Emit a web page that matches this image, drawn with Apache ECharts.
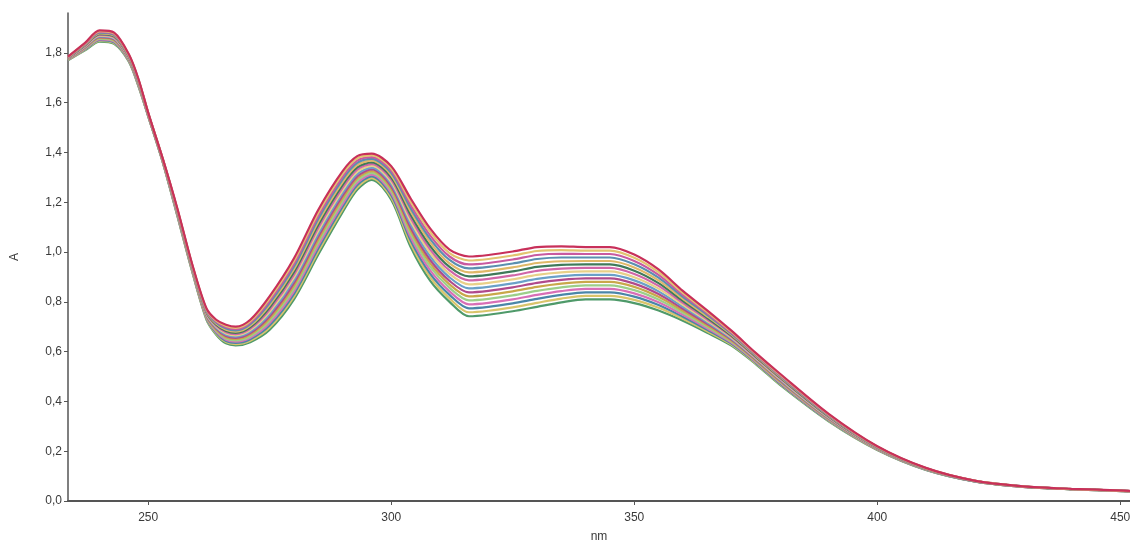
<!DOCTYPE html>
<html>
<head>
<meta charset="utf-8">
<script src="https://cdn.jsdelivr.net/npm/echarts@6/dist/echarts.min.js"></script>
<style>
  html, body { margin: 0; padding: 0; background: #fff; }
  #chart { width: 1130px; height: 542px; }
</style>
</head>
<body>
<div id="chart"></div>
<script>
// wavelength grid (nm)
const wavelengths = [233.5, 237, 240, 243, 246, 248, 250, 253, 256, 259, 262, 264, 266, 268, 271, 275, 280, 285, 290, 293, 296, 300, 304, 308, 312, 316, 320, 325, 330, 335, 340, 345, 350, 355, 360, 365, 370, 375, 380, 390, 400, 410, 420, 430, 440, 452];

// absorbance of each spectrum, lowest shoulder first
const s01 = [1.770,1.810,1.845,1.836,1.765,1.665,1.545,1.360,1.145,0.925, 0.728,0.668,0.633,0.625,0.638,0.688, 0.810,0.990,1.160,1.250,1.290,1.210,1.020,0.885,0.800, 0.742,0.748,0.762,0.780,0.798,0.810, 0.810,0.795,0.765, 0.724,0.676,0.624,0.550,0.466, 0.320,0.205,0.125,0.079,0.057,0.047,0.039];
const s02 = [1.771,1.812,1.848,1.839,1.767,1.667,1.546,1.361,1.147,0.927, 0.731,0.672,0.638,0.630,0.644,0.697, 0.821,1.002,1.171,1.259,1.297,1.219,1.033,0.899,0.814, 0.758,0.764,0.778,0.796,0.813,0.824, 0.824,0.808,0.776, 0.732,0.682,0.628,0.553,0.469, 0.322,0.206,0.126,0.079,0.057,0.047,0.039];
const s03 = [1.772,1.814,1.851,1.842,1.769,1.669,1.547,1.362,1.149,0.929, 0.734,0.676,0.643,0.635,0.650,0.706, 0.832,1.014,1.182,1.268,1.304,1.228,1.046,0.913,0.828, 0.774,0.780,0.794,0.812,0.828,0.838, 0.838,0.821,0.787, 0.740,0.688,0.632,0.556,0.472, 0.324,0.207,0.126,0.079,0.057,0.047,0.039];
const s04 = [1.773,1.816,1.854,1.845,1.771,1.671,1.548,1.363,1.151,0.931, 0.737,0.680,0.648,0.640,0.656,0.715, 0.843,1.026,1.193,1.277,1.311,1.237,1.059,0.927,0.842, 0.790,0.796,0.810,0.828,0.843,0.852, 0.852,0.834,0.798, 0.748,0.694,0.636,0.559,0.475, 0.326,0.208,0.127,0.080,0.057,0.047,0.039];
const s05 = [1.774,1.818,1.857,1.848,1.773,1.673,1.549,1.364,1.153,0.933, 0.740,0.684,0.653,0.645,0.662,0.724, 0.854,1.038,1.204,1.286,1.318,1.246,1.072,0.941,0.856, 0.806,0.812,0.826,0.844,0.858,0.866, 0.866,0.847,0.809, 0.756,0.700,0.640,0.562,0.478, 0.328,0.209,0.127,0.080,0.058,0.047,0.039];
const s06 = [1.775,1.820,1.860,1.851,1.775,1.675,1.550,1.365,1.155,0.935, 0.743,0.688,0.658,0.650,0.668,0.733, 0.865,1.050,1.215,1.295,1.325,1.255,1.085,0.955,0.870, 0.822,0.828,0.842,0.860,0.873,0.880, 0.880,0.860,0.820, 0.764,0.706,0.644,0.565,0.481, 0.330,0.210,0.128,0.080,0.058,0.048,0.040];
const s07 = [1.776,1.822,1.863,1.854,1.777,1.677,1.551,1.366,1.157,0.937, 0.746,0.692,0.663,0.655,0.674,0.742, 0.876,1.062,1.226,1.304,1.332,1.264,1.098,0.969,0.884, 0.838,0.844,0.858,0.876,0.888,0.894, 0.894,0.873,0.831, 0.772,0.712,0.648,0.568,0.484, 0.332,0.211,0.128,0.080,0.058,0.048,0.040];
const s08 = [1.777,1.824,1.866,1.857,1.779,1.679,1.552,1.367,1.159,0.939, 0.749,0.696,0.668,0.660,0.680,0.751, 0.887,1.074,1.237,1.313,1.339,1.273,1.111,0.983,0.898, 0.854,0.860,0.874,0.892,0.903,0.908, 0.908,0.886,0.842, 0.780,0.718,0.652,0.571,0.487, 0.334,0.212,0.129,0.080,0.058,0.048,0.040];
const s09 = [1.778,1.826,1.869,1.860,1.781,1.681,1.553,1.368,1.161,0.941, 0.752,0.700,0.673,0.665,0.686,0.760, 0.898,1.086,1.248,1.322,1.346,1.282,1.124,0.997,0.912, 0.870,0.876,0.890,0.908,0.918,0.922, 0.922,0.899,0.853, 0.788,0.724,0.656,0.574,0.490, 0.336,0.213,0.129,0.081,0.058,0.048,0.040];
const s10 = [1.779,1.828,1.872,1.863,1.783,1.683,1.554,1.369,1.163,0.943, 0.755,0.704,0.678,0.670,0.692,0.769, 0.909,1.098,1.259,1.331,1.353,1.291,1.137,1.011,0.926, 0.886,0.892,0.906,0.924,0.933,0.936, 0.936,0.912,0.864, 0.796,0.730,0.660,0.577,0.493, 0.338,0.214,0.130,0.081,0.058,0.048,0.040];
const s11 = [1.780,1.830,1.875,1.866,1.785,1.685,1.555,1.370,1.165,0.945, 0.758,0.708,0.683,0.675,0.698,0.778, 0.920,1.110,1.270,1.340,1.360,1.300,1.150,1.025,0.940, 0.902,0.908,0.922,0.940,0.948,0.950, 0.950,0.925,0.875, 0.804,0.736,0.664,0.580,0.496, 0.340,0.215,0.130,0.081,0.058,0.048,0.040];
const s12 = [1.781,1.832,1.878,1.869,1.787,1.687,1.556,1.371,1.167,0.947, 0.761,0.712,0.688,0.680,0.704,0.787, 0.931,1.122,1.281,1.349,1.367,1.309,1.163,1.039,0.954, 0.918,0.924,0.938,0.956,0.963,0.964, 0.964,0.938,0.886, 0.812,0.742,0.668,0.583,0.499, 0.342,0.216,0.131,0.081,0.058,0.048,0.040];
const s13 = [1.782,1.834,1.881,1.872,1.789,1.689,1.557,1.372,1.169,0.949, 0.764,0.716,0.693,0.685,0.710,0.796, 0.942,1.134,1.292,1.358,1.374,1.318,1.176,1.053,0.968, 0.934,0.940,0.954,0.972,0.978,0.978, 0.978,0.951,0.897, 0.820,0.748,0.672,0.586,0.502, 0.344,0.217,0.131,0.081,0.059,0.048,0.040];
const s14 = [1.783,1.836,1.884,1.875,1.791,1.691,1.558,1.373,1.171,0.951, 0.767,0.720,0.698,0.690,0.716,0.805, 0.953,1.146,1.303,1.367,1.381,1.327,1.189,1.067,0.982, 0.950,0.956,0.970,0.988,0.993,0.992, 0.992,0.964,0.908, 0.828,0.754,0.676,0.589,0.505, 0.346,0.218,0.132,0.082,0.059,0.048,0.040];
const s15 = [1.784,1.838,1.887,1.878,1.793,1.693,1.559,1.374,1.173,0.953, 0.770,0.724,0.703,0.695,0.722,0.814, 0.964,1.158,1.314,1.376,1.388,1.336,1.202,1.081,0.996, 0.966,0.972,0.986,1.004,1.008,1.006, 1.006,0.977,0.919, 0.836,0.760,0.680,0.592,0.508, 0.348,0.219,0.132,0.082,0.059,0.048,0.040];
const s16 = [1.785,1.840,1.890,1.881,1.795,1.695,1.560,1.375,1.175,0.955, 0.773,0.728,0.708,0.700,0.728,0.823, 0.975,1.170,1.325,1.385,1.395,1.345,1.215,1.095,1.010, 0.982,0.988,1.002,1.020,1.023,1.020, 1.020,0.990,0.930, 0.844,0.766,0.684,0.595,0.511, 0.350,0.220,0.133,0.082,0.059,0.049,0.041];

const spectra = [s01, s02, s03, s04, s05, s06, s07, s08, s09, s10, s11, s12, s13, s14, s15, s16];

// tick labels
const xTicks = [250, 300, 350, 400, 450];
const yTicks = [0, 0.2, 0.4, 0.6, 0.8, 1.0, 1.2, 1.4, 1.6, 1.8];

const lineColors = [
  "#4f9a6a", "#d9c46a", "#4a86a8", "#d86fb6", "#9ccf8a", "#c9a84a", "#b04a8c", "#6aa0c8",
  "#e8d088", "#d066a8", "#3f7a5a", "#e0b868", "#5b8fb0", "#c85aa0", "#e2c470", "#c8305a",
];

const labelFont = {
  fontFamily: "Liberation Sans",
  fontSize: 12,
  color: "#3a3a3a",
};

const series = spectra.map((vals, i) => ({
  type: "line",
  data: wavelengths.map((w, j) => [w, vals[j]]),
  showSymbol: false,
  smooth: 0.3,
  lineStyle: { width: 2.2, color: lineColors[i] },
  silent: true,
}));

const myChart = echarts.init(document.getElementById("chart"));
myChart.setOption({
  animation: false,
  color: lineColors,
  grid: { left: 68, right: 0, top: 13, bottom: 41, outerBoundsMode: "none" },
  xAxis: {
    type: "value",
    min: 233.5,
    max: 452,
    name: "nm",
    nameLocation: "middle",
    nameGap: 30,
    nameTextStyle: { ...labelFont },
    axisLine: { show: true, lineStyle: { color: "#555", width: 2 } },
    axisTick: { show: true, length: 4, customValues: xTicks, lineStyle: { color: "#555" } },
    axisLabel: { ...labelFont, margin: 11, customValues: xTicks },
    splitLine: { show: false },
  },
  yAxis: {
    type: "value",
    min: 0,
    max: 1.96,
    name: "A",
    nameLocation: "middle",
    nameGap: 47,
    nameTextStyle: { ...labelFont },
    axisLine: { show: true, lineStyle: { color: "#555", width: 1.5 } },
    axisTick: { show: true, length: 4, customValues: yTicks, lineStyle: { color: "#555" } },
    axisLabel: {
      ...labelFont,
      margin: 6,
      customValues: yTicks,
      formatter: (v) => v.toFixed(1).replace(".", ","),
    },
    splitLine: { show: false },
  },
  series,
});
</script>
</body>
</html>
